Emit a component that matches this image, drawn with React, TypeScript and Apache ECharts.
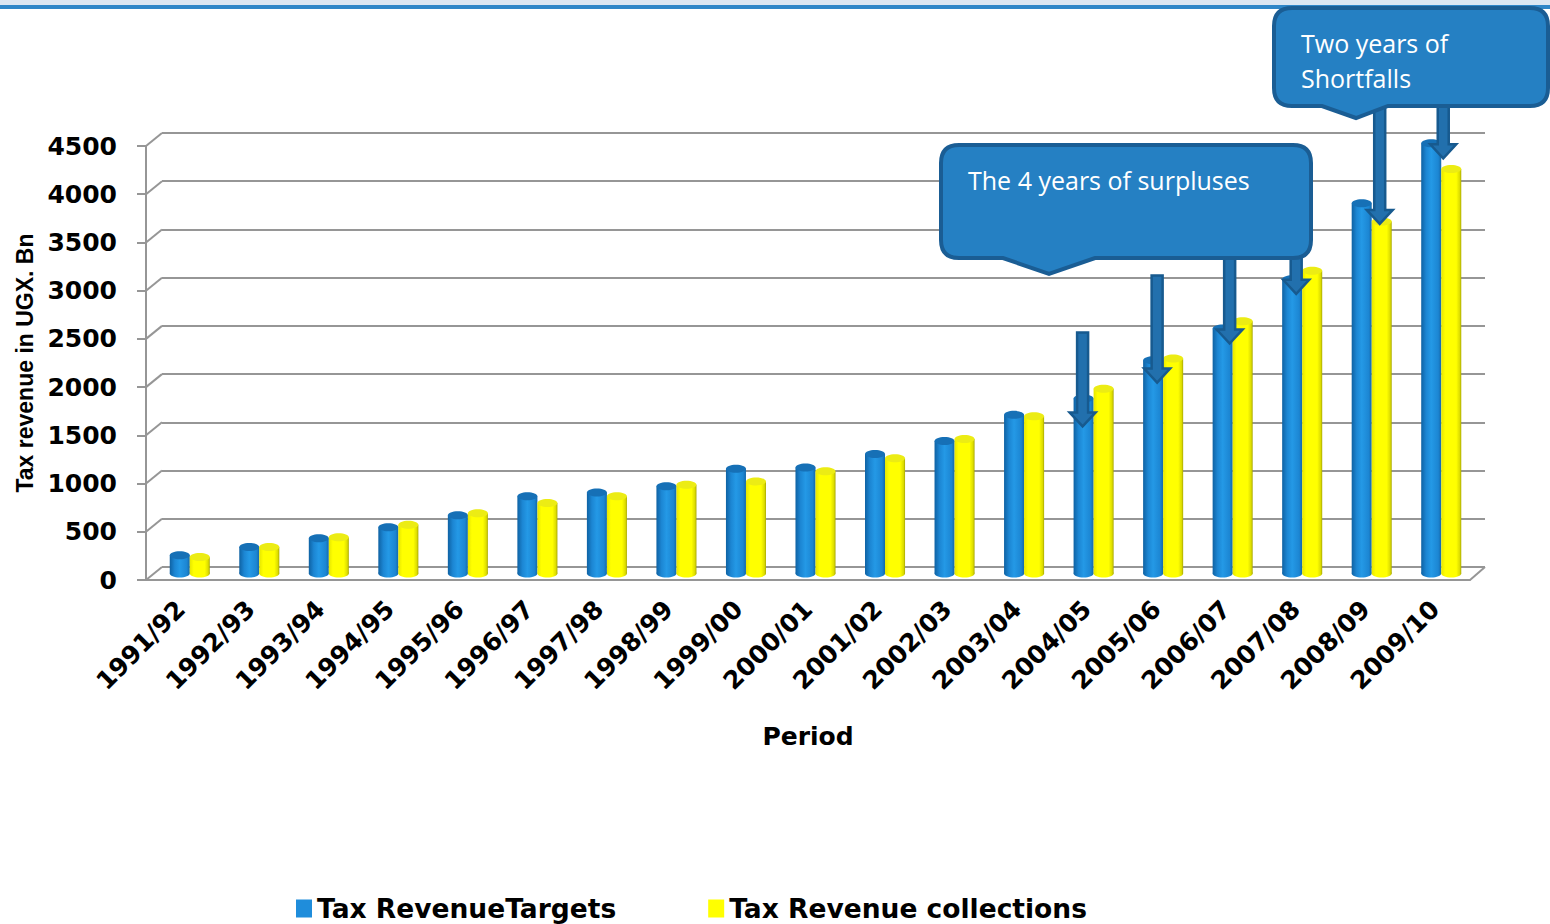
import React, { useEffect, useRef } from "react";
import * as echarts from "echarts";

const CATEGORIES = [
  "1991/92", "1992/93", "1993/94", "1994/95", "1995/96", "1996/97", "1997/98",
  "1998/99", "1999/00", "2000/01", "2001/02", "2002/03", "2003/04", "2004/05",
  "2005/06", "2006/07", "2007/08", "2008/09", "2009/10",
];
const TARGETS = [190, 275, 365, 480, 605, 800, 840, 905, 1085, 1100, 1240, 1375, 1645, 1815, 2210, 2540, 3050, 3840, 4460];
const COLLECTIONS = [170, 275, 375, 505, 625, 730, 800, 920, 955, 1060, 1195, 1395, 1630, 1915, 2230, 2615, 3140, 3650, 4195];
const Y_TICKS = [0, 500, 1000, 1500, 2000, 2500, 3000, 3500, 4000, 4500];
const SERIES_NAMES = ["Tax RevenueTargets", "Tax Revenue collections"];

// annotation arrows: category, tail value, tip value
const ARROW_CATS = ["2004/05", "2005/06", "2006/07", "2007/08", "2008/09", "2009/10"];
const ARROW_FROM = [2500, 3090, 3300, 3300, 4900, 4900];
const ARROW_TO = [1525, 1980, 2385, 2900, 3625, 4305];
const ARROW_DX = [-11, -6, -3, -6, 8, 2];

const Y_MAX = 4500;
const BACK = { left: 162, top: 133, width: 1323, height: 434 };
const FRONT = { left: 146, top: 146, width: 1324, height: 434 };
const BARS = { left: 155, top: 139.5, width: 1321, height: 434 };

const CALLOUT1 =
  "M 959 145 H 1293 Q 1311 145 1311 163 V 240 Q 1311 258 1293 258 H 1095 L 1049 274 L 1003 258 H 959 Q 941 258 941 240 V 163 Q 941 145 959 145 Z";
const CALLOUT2 =
  "M 1292 8 H 1530 Q 1548 8 1548 26 V 88 Q 1548 106 1530 106 H 1388 L 1356 118 L 1322 106 H 1292 Q 1274 106 1274 88 V 26 Q 1274 8 1292 8 Z";

echarts.graphic.registerShape("callout1", echarts.graphic.extendPath(CALLOUT1, {}));
echarts.graphic.registerShape("callout2", echarts.graphic.extendPath(CALLOUT2, {}));

const BLUE = "#1f8ddb";
const YELLOW = "#ffff00";
const GRID_GRAY = "#969696";

function cylinderRenderer(side: number, kind: "blue" | "yellow") {
  return (params: any, api: any) => {
    const idx = api.value(0);
    const v = api.value(1);
    const base = api.coord([idx, 0]);
    const top = api.coord([idx, v]);
    const band = api.size([1, 0])[0];
    const w = band * 0.288;
    const cx = base[0] + (side * w) / 2;
    const ry = w * 0.2;
    const body =
      kind === "blue"
        ? new echarts.graphic.LinearGradient(0, 0, 1, 0, [
            { offset: 0, color: "#0f62a3" },
            { offset: 0.25, color: "#1c86d3" },
            { offset: 0.5, color: "#2499e6" },
            { offset: 0.85, color: "#1c86d3" },
            { offset: 1, color: "#1468aa" },
          ])
        : new echarts.graphic.LinearGradient(0, 0, 1, 0, [
            { offset: 0, color: "#e6e600" },
            { offset: 0.2, color: "#ffff00" },
            { offset: 0.75, color: "#ffff00" },
            { offset: 0.92, color: "#dcdc00" },
            { offset: 1, color: "#a8a800" },
          ]);
    const topFill = kind === "blue" ? "#1670b6" : "#ecec14";
    return {
      type: "group",
      children: [
        { type: "ellipse", shape: { cx, cy: base[1], rx: w / 2, ry }, style: { fill: body } },
        {
          type: "rect",
          shape: { x: cx - w / 2, y: top[1], width: w, height: base[1] - top[1] },
          style: { fill: body },
        },
        { type: "ellipse", shape: { cx, cy: top[1], rx: w / 2, ry }, style: { fill: topFill } },
      ],
    };
  };
}

function arrowRenderer(params: any, api: any) {
  const idx = api.value(0);
  const p1 = api.coord([idx, api.value(1)]);
  const p2 = api.coord([idx, api.value(2)]);
  const x = p1[0] + api.value(3);
  const sw = 5.5;
  const hw = 13;
  const hl = 14;
  const yT = p1[1];
  const yH = p2[1];
  return {
    type: "polygon",
    shape: {
      points: [
        [x - sw, yT],
        [x + sw, yT],
        [x + sw, yH - hl],
        [x + hw, yH - hl],
        [x, yH],
        [x - hw, yH - hl],
        [x - sw, yH - hl],
      ],
    },
    style: { fill: "#2270ad", stroke: "#175a8f", lineWidth: 2.5 },
  };
}

const yBack = (v: number) => BACK.top + BACK.height * (1 - v / Y_MAX);
const yFront = (v: number) => FRONT.top + FRONT.height * (1 - v / Y_MAX);

export default function App() {
  const ref = useRef<HTMLDivElement>(null);
  useEffect(() => {
    if (!ref.current) return;
    const chart = echarts.init(ref.current, undefined, { renderer: "svg" });

    const frameLines: any[] = Y_TICKS.map((v) => ({
      type: "line",
      shape: { x1: FRONT.left, y1: yFront(v), x2: BACK.left, y2: yBack(v) },
      style: { stroke: GRID_GRAY, lineWidth: 2 },
      z: 1,
    }));
    frameLines.push({
      type: "line",
      shape: {
        x1: FRONT.left + FRONT.width,
        y1: FRONT.top + FRONT.height,
        x2: BACK.left + BACK.width,
        y2: BACK.top + BACK.height,
      },
      style: { stroke: GRID_GRAY, lineWidth: 2 },
      z: 1,
    });

    const textStyle = (x: number, y: number, text: string) => ({
      type: "text",
      x,
      y,
      z: 101,
      style: {
        text,
        fill: "#ffffff",
        fontSize: 25,
        fontFamily: '"Open Sans", sans-serif',
        verticalAlign: "middle",
      },
    });

    const hiddenCat = (gridIndex: number) => ({
      type: "category",
      gridIndex,
      data: CATEGORIES,
      show: false,
    });
    const hiddenVal = (gridIndex: number) => ({
      type: "value",
      gridIndex,
      min: 0,
      max: Y_MAX,
      interval: 500,
      axisLabel: { show: false },
      axisLine: { show: false },
      axisTick: { show: false },
      splitLine: { show: false },
    });

    chart.setOption({
      animation: false,
      backgroundColor: "#ffffff",
      grid: [
        { ...BACK, outerBoundsMode: "none" },
        { ...FRONT, outerBoundsMode: "none" },
        { ...BARS, outerBoundsMode: "none" },
      ],
      xAxis: [
        hiddenCat(0),
        {
          type: "category",
          gridIndex: 1,
          data: CATEGORIES,
          axisLine: { show: true, lineStyle: { color: GRID_GRAY, width: 2 } },
          axisTick: { show: false },
          axisLabel: {
            interval: 0,
            rotate: 45,
            margin: 25,
            color: "#000",
            fontSize: 25,
            fontWeight: "bold",
            fontFamily: '"DejaVu Sans", sans-serif',
          },
          name: "Period",
          nameLocation: "middle",
          nameGap: 144,
          nameTextStyle: {
            color: "#000",
            fontSize: 25,
            fontWeight: "bold",
            fontFamily: '"DejaVu Sans", sans-serif',
          },
        },
        hiddenCat(2),
      ],
      yAxis: [
        {
          ...hiddenVal(0),
          splitLine: { show: true, lineStyle: { color: GRID_GRAY, width: 2 } },
        },
        {
          type: "value",
          gridIndex: 1,
          min: 0,
          max: Y_MAX,
          interval: 500,
          axisLine: { show: true, lineStyle: { color: GRID_GRAY, width: 2 } },
          axisTick: { show: true, length: 9, lineStyle: { color: GRID_GRAY, width: 2 } },
          splitLine: { show: false },
          axisLabel: {
            margin: 29,
            color: "#000",
            fontSize: 25,
            fontWeight: "bold",
            fontFamily: '"DejaVu Sans", sans-serif',
            formatter: (v: number) => String(v),
          },
          name: "Tax revenue in UGX. Bn",
          nameLocation: "middle",
          nameRotate: 90,
          nameGap: 110,
          nameTextStyle: {
            color: "#000",
            fontSize: 23,
            fontWeight: "bold",
            fontFamily: '"Liberation Sans", Arial, sans-serif',
          },
        },
        hiddenVal(2),
      ],
      legend: {
        left: 296,
        top: 895,
        padding: 0,
        icon: "rect",
        itemWidth: 16,
        itemHeight: 18,
        itemGap: 92,
        textStyle: {
          color: "#000",
          fontSize: 26.5,
          fontWeight: "bold",
          fontFamily: '"DejaVu Sans", sans-serif',
        },
        data: [
          { name: SERIES_NAMES[0], itemStyle: { color: BLUE } },
          { name: SERIES_NAMES[1], itemStyle: { color: YELLOW } },
        ],
      },
      series: [
        {
          type: "custom",
          name: SERIES_NAMES[0],
          xAxisIndex: 2,
          yAxisIndex: 2,
          z: 2,
          itemStyle: { color: BLUE },
          encode: { x: 0, y: 1 },
          data: TARGETS.map((v, i) => [i, v]),
          renderItem: cylinderRenderer(-1, "blue"),
        },
        {
          type: "custom",
          name: SERIES_NAMES[1],
          xAxisIndex: 2,
          yAxisIndex: 2,
          z: 2,
          itemStyle: { color: YELLOW },
          encode: { x: 0, y: 1 },
          data: COLLECTIONS.map((v, i) => [i, v]),
          renderItem: cylinderRenderer(1, "yellow"),
        },
        {
          type: "custom",
          name: "arrows",
          xAxisIndex: 2,
          yAxisIndex: 2,
          z: 5,
          clip: false,
          silent: true,
          encode: { x: 0, y: 2 },
          data: ARROW_CATS.map((c, i) => [CATEGORIES.indexOf(c), ARROW_FROM[i], ARROW_TO[i], ARROW_DX[i]]),
          renderItem: arrowRenderer,
        },
      ],
      graphic: [
        { type: "rect", shape: { x: 0, y: 0, width: 1550, height: 5 }, style: { fill: "#dbe6f2" }, z: 1 },
        { type: "rect", shape: { x: 0, y: 5, width: 1550, height: 4 }, style: { fill: "#2f86c8" }, z: 1 },
        ...frameLines,
        {
          type: "callout1",
          x: 0,
          y: 0,
          z: 100,
          style: { fill: "#2580c3", stroke: "#1a5d94", lineWidth: 4 },
        },
        {
          type: "callout2",
          x: 0,
          y: 0,
          z: 100,
          style: { fill: "#2580c3", stroke: "#1a5d94", lineWidth: 4 },
        },
        textStyle(968, 180, "The 4 years of surpluses"),
        textStyle(1301, 43, "Two years of"),
        textStyle(1301, 78, "Shortfalls"),
      ],
    });
    return () => chart.dispose();
  }, []);
  return (
    <div
      ref={ref}
      style={{ position: "absolute", left: 0, top: 0, width: 1550, height: 924 }}
    />
  );
}
